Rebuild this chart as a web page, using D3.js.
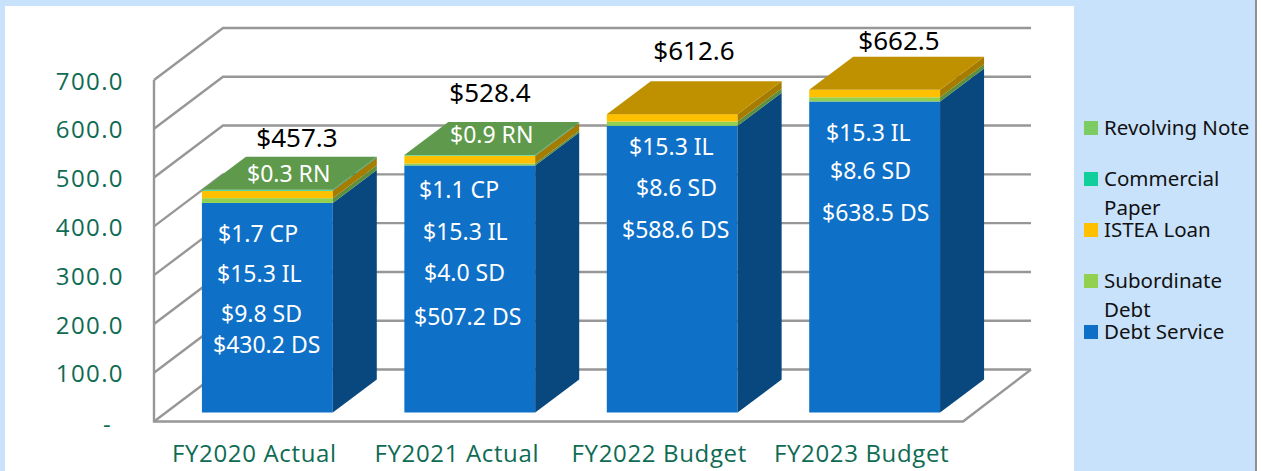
<!DOCTYPE html>
<html><head><meta charset="utf-8">
<script src="https://cdn.jsdelivr.net/npm/d3@7"></script>
<style>
html,body{margin:0;padding:0;background:#c9e2fb;overflow:hidden}
text{font-family:"Noto Sans",sans-serif}
.axis path,.axis line{display:none}
.axis text{font-family:"Open Sans",sans-serif;fill:#0f6b53;font-size:24px;letter-spacing:0.65px}
.yaxis text{letter-spacing:1.4px}
</style></head><body>
<svg id="c" width="1262" height="471"></svg>
<script>
const categories = ["FY2020 Actual","FY2021 Actual","FY2022 Budget","FY2023 Budget"];
const yTicks = [0,100,200,300,400,500,600,700];
const seriesNames = ["Debt Service","Subordinate Debt","ISTEA Loan","Commercial Paper","Revolving Note"];
const debtService = [430.2,507.2,588.6,638.5];
const subordinateDebt = [9.8,4.0,8.6,8.6];
const isteaLoan = [15.3,15.3,15.3,15.3];
const commercialPaper = [1.7,1.1,0,0];
const revolvingNote = [0.3,0.9,0,0];
const totals = ["$457.3","$528.4","$612.6","$662.5"];
const suffixes = ["DS","SD","IL","CP","RN"];

const seriesValues = [debtService,subordinateDebt,isteaLoan,commercialPaper,revolvingNote];
const front = ["#0e70c7","#92d050","#ffc000","#10cf9a","#7ccb63"];
const side  = ["#09477f","#5c8f3e","#a67c00","#0a8a66","#4f8a3c"];
const top_  = ["#0e70c7","#5f9a4c","#bf9000","#2fa878","#5f9a4c"];
const swatch= ["#0e6fc6","#92d050","#ffc000","#10cf9a","#7ccb63"];
const labelColumns = [
 {4:[247,174],3:[218,234],2:[217,274],1:[221,314],0:[213,345]},
 {4:[450,135],3:[419,190],2:[423,232],1:[424,273],0:[414,317]},
 {2:[629,147],1:[636,188],0:[622,230]},
 {2:[826,133],1:[830,171],0:[822,213]}
];
const svg = d3.select("#c");
svg.append("rect").attr("x",5).attr("y",6).attr("width",1069).attr("height",465).attr("fill","#fff");
svg.append("rect").attr("x",1255).attr("y",0).attr("width",2).attr("height",471).attr("fill","#8f8f8f");
svg.append("rect").attr("x",1257).attr("y",0).attr("width",5).attr("height",471).attr("fill","#fff");

const dx=69, dy=52, wallL=154, wallR=963;
const yWall = d3.scaleLinear().domain([0,700]).range([421.5,80]);
const yBar = d3.scaleLinear().domain([0,700]).range([412.5,71.5]);
const x = d3.scaleBand().domain(categories).range([154,988]).paddingInner(0.3536).paddingOuter(0.2368);
const bdx=44, bdy=33;

const grid = svg.append("g").attr("fill","none").attr("stroke","#979797").attr("stroke-width",2.4);
yTicks.forEach(t=>{
  const y=yWall(t);
  grid.append("path").attr("d",`M${wallL},${y}L${wallL+dx},${y-dy}L1031,${y-dy}`);
});
grid.append("path").attr("d",`M${wallL},${yWall(700)}V${yWall(0)}H${wallR}L1031,${yWall(0)-dy}`);

categories.forEach((c,i)=>{
  const g=svg.append("g");
  const X=x(c), W=x.bandwidth();
  let cum=0, last=0;
  seriesValues.forEach((s,k)=>{
    const v=s[i]; if(!v) return;
    const y0=yBar(cum), y1=yBar(cum+v);
    g.append("rect").attr("x",X).attr("y",y1).attr("width",W).attr("height",y0-y1).attr("fill",front[k]);
    g.append("path").attr("d",`M${X+W},${y0}L${X+W+bdx},${y0-bdy}V${y1-bdy}L${X+W},${y1}Z`).attr("fill",side[k]);
    cum+=v; last=k;
  });
  const yt=yBar(cum);
  g.append("path").attr("d",`M${X},${yt}L${X+bdx},${yt-bdy}H${X+W+bdx}L${X+W},${yt}Z`).attr("fill",top_[last]);
});

svg.append("g").attr("class","axis yaxis").attr("transform","translate(124,0)")
  .call(d3.axisLeft(yWall).tickValues(yTicks).tickSize(0).tickPadding(0).tickFormat(d=>d===0?"-":d3.format(".1f")(d)))
  .selectAll("text").attr("dy","0.38em").attr("dx",d=>d===0?-12:0).attr("y",d=>d===0?2:0);
svg.append("g").attr("class","axis").attr("transform","translate(-13,453)")
  .call(d3.axisBottom(x).tickSize(0).tickPadding(0))
  .selectAll("text").attr("dy","0.38em");

categories.forEach((c,i)=>{
  Object.entries(labelColumns[i]).forEach(([k,p])=>{
    svg.append("text").attr("x",p[0]).attr("y",p[1]+8).attr("font-size",23).attr("fill","#fff")
      .text("$"+seriesValues[k][i].toFixed(1)+" "+suffixes[k]);
  });
});
const totalPos=[[297,147],[490,102],[694,60],[899,50]];
totals.forEach((t,i)=>svg.append("text").attr("x",totalPos[i][0]).attr("y",totalPos[i][1]).attr("text-anchor","middle").attr("font-size",26).attr("fill","#000").text(t));

const legend=[
 {k:4,lines:["Revolving Note"],y:128},
 {k:3,lines:["Commercial","Paper"],y:179},
 {k:2,lines:["ISTEA Loan"],y:230},
 {k:1,lines:["Subordinate","Debt"],y:281},
 {k:0,lines:["Debt Service"],y:332}
];
legend.forEach(d=>{
  svg.append("rect").attr("x",1084).attr("y",d.y-7).attr("width",14).attr("height",14).attr("fill",swatch[d.k]);
  d.lines.forEach((l,j)=>svg.append("text").attr("x",1104).attr("y",d.y+7+j*29).attr("font-size",20.5).attr("fill","#111").text(l));
});
</script></body></html>
